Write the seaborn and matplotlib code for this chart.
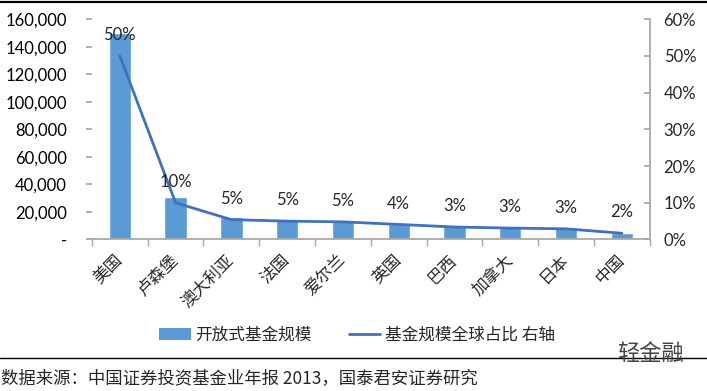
import matplotlib
matplotlib.use("Agg")
import matplotlib.pyplot as plt
import seaborn as sns
import pandas as pd
from matplotlib.patches import Patch
from matplotlib.lines import Line2D
from matplotlib.ticker import FuncFormatter

# data
countries = ["美国", "卢森堡", "澳大利亚", "法国", "爱尔兰", "英国", "巴西", "加拿大", "日本", "中国"]
fund_size = [150000, 30500, 16000, 15000, 14000, 11500, 10000, 9000, 8000, 5000]
global_share = [0.50, 0.10, 0.054, 0.050, 0.048, 0.041, 0.034, 0.031, 0.029, 0.017]
left_ticks = [0, 20000, 40000, 60000, 80000, 100000, 120000, 140000, 160000]
right_ticks = [0, 0.1, 0.2, 0.3, 0.4, 0.5, 0.6]

bar_color = "#5B9BD5"
line_color = "#4170BE"
axis_gray = "#A6A6A6"
cjk = ["Noto Sans CJK SC", "DejaVu Sans"]

sns.set_theme(style="white")
plt.rcParams["font.family"] = ["Lato", "DejaVu Sans"]

df = pd.DataFrame({"country": countries, "size": fund_size, "share": global_share})

fig = plt.figure(figsize=(7.07, 3.91), dpi=100)

ax = fig.add_axes([0.130, 0.3875, 0.789, 0.5635])

sns.barplot(data=df, x="country", y="size", color=bar_color, width=0.4,
            saturation=1, ax=ax)
ax.set_ylim(0, 160000)
ax.set_xlim(-0.5, len(countries) - 0.5)
ax.set_xlabel("")
ax.set_ylabel("")
ax.set_yticks(left_ticks)
ax.yaxis.set_major_formatter(FuncFormatter(lambda v, p: "-" if v == 0 else f"{int(v):,}"))
ax.tick_params(axis="y", left=True, length=4, color=axis_gray, labelsize=12,
               pad=14, labelcolor="black")
for s in ["top", "right", "left"]:
    ax.spines[s].set_visible(False)
ax.spines["bottom"].set_color(axis_gray)

# category labels + boundary ticks
ax.set_xticks(range(len(countries)))
ax.set_xticklabels(countries, rotation=45, ha="right", va="center",
                   rotation_mode="anchor", family=cjk, fontsize=12)
ax.tick_params(axis="x", which="major", length=0, pad=13)
ax.set_xticks([i - 0.5 for i in range(len(countries) + 1)], minor=True)
ax.tick_params(axis="x", which="minor", bottom=True, length=5, color=axis_gray)

ax2 = ax.twinx()
sns.lineplot(x=list(range(len(countries))), y=global_share, color=line_color,
             linewidth=2, ax=ax2)
ax2.set_ylim(0, 0.6)
ax2.set_yticks(right_ticks)
ax2.yaxis.set_major_formatter(FuncFormatter(lambda v, p: f"{v:.0%}"))
ax2.tick_params(axis="y", right=True, direction="in", length=4, color=axis_gray,
                labelsize=12, pad=10)
for s in ["top", "left", "bottom"]:
    ax2.spines[s].set_visible(False)
ax2.spines["right"].set_color(axis_gray)
ax2.grid(False)

for i, v in enumerate(global_share):
    ax2.annotate(f"{v:.0%}", (i, v), xytext=(0, 15), textcoords="offset points",
                 ha="center", va="center", fontsize=12)

handles = [Patch(facecolor=bar_color, edgecolor="none"),
           Line2D([0], [0], color=line_color, linewidth=2)]
fig.legend(handles, ["开放式基金规模", "基金规模全球占比 右轴"], loc="center",
           bbox_to_anchor=(0.505, 0.143), ncol=2, frameon=False,
           prop={"family": cjk, "size": 12}, handlelength=1.9,
           columnspacing=2.2, handletextpad=0.3)

# full-figure overlay for the frame lines, source and watermark
bg = fig.add_axes([0, 0, 1, 1], zorder=5)
bg.patch.set_alpha(0)
bg.set_xlim(0, 1)
bg.set_ylim(0, 1)
bg.set_xticks([])
bg.set_yticks([])
for s in bg.spines.values():
    s.set_visible(False)
bg.plot([0, 1], [0.996, 0.996], color="black", linewidth=1.6)
bg.plot([0, 1], [1 - 358 / 391] * 2, color="black", linewidth=1)
bg.text(0.002, 1 - 378 / 391, "数据来源：中国证券投资基金业年报 2013，国泰君安证券研究",
        family=cjk, fontsize=12.5, va="center", ha="left")
bg.text(617 / 707, 1 - 353 / 391, "轻金融", family=cjk, fontsize=16,
        va="center", ha="left", color="#444444")

fig.savefig("out.png", dpi=100)
